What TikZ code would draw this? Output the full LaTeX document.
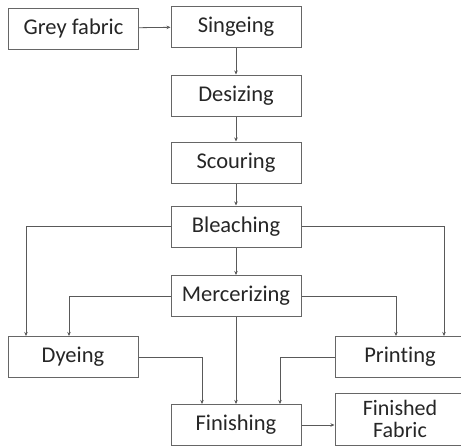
\documentclass[tikz,border=0pt]{standalone}
\usepackage{fontspec}
\setmainfont[Ligatures=NoCommon]{Carlito}
\usepackage{tikz}
\usetikzlibrary{
  arrows.meta,
  positioning,
  calc
}

\begin{document}
\begin{tikzpicture}[
  x=1pt, y=-1pt,
  stage/.style={
    rectangle,
    draw=black!60,
    fill=white,
    line width=1pt,
    minimum width=130pt,
    minimum height=41pt,
    font=\fontsize{22.5}{25}\selectfont,
    text=black!85,
    align=center,
    inner sep=3pt,
  },
  arrow/.style={-{Stealth[length=4pt,width=3.5pt]}, line width=0.8pt, black!65},
]

% ── Page frame ──
\clip (0, 0) rectangle (461, 445);

% ── Main line ──
\node[stage] (grey) at (73.5, 28.5) {Grey fabric};
\node[stage] (singe) at (236, 26.5) {Singeing};
\node[stage] (desize) at (236, 95.5) {Desizing};
\node[stage] (scour) at (236, 162.5) {Scouring};
\node[stage] (bleach) at (236, 226.5) {Bleaching};
\node[stage] (merc) at (236, 296) {Mercerizing};

% ── Colouring ──
\node[stage] (dye) at (73, 357) {Dyeing};
\node[stage] (print) at (400, 357) {Printing};

% ── End ──
\node[stage] (finish) at (236, 425) {Finishing};
\node[stage, minimum height=52pt, inner sep=1pt, font=\fontsize{22}{22}\selectfont] (fabric) at (400, 419) {Finished\\Fabric};

% ── Arrows ──
\draw[arrow] (grey) -- (singe);
\draw[arrow] (singe) -- (desize);
\draw[arrow] (desize) -- (scour);
\draw[arrow] (scour) -- (bleach);
\draw[arrow] (bleach) -- (merc);
\draw[arrow] (merc) -- (finish);
\draw[arrow] (finish) -- (finish -| fabric.west);

\draw[arrow] (bleach.west) -| ([xshift=-47pt]dye.north);
\draw[arrow] (bleach.east) -| ([xshift=44pt]print.north);
\draw[arrow] (merc.west) -| ([xshift=-4pt]dye.north);
\draw[arrow] (merc.east) -| ([xshift=-4pt]print.north);

\draw[arrow] (dye.east) -| ([xshift=-34pt]finish.north);
\draw[arrow] (print.west) -| ([xshift=44pt]finish.north);

\end{tikzpicture}
\end{document}
